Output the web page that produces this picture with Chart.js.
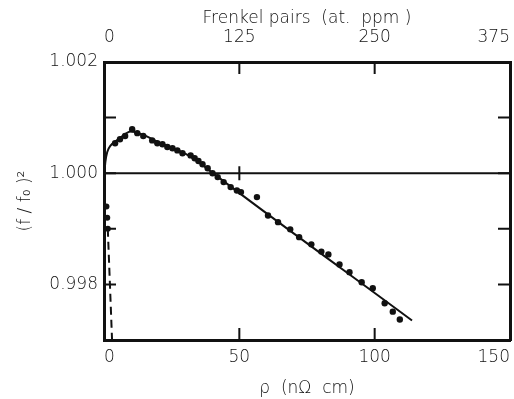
<!DOCTYPE html>
<html>
<head>
<meta charset="utf-8">
<script src="https://cdn.jsdelivr.net/npm/chart.js@4/dist/chart.umd.min.js"></script>
<style>
  html, body { margin: 0; padding: 0; background: #fff; }
  #wrap { width: 514px; height: 399px; }
</style>
</head>
<body>
<div id="wrap"><canvas id="c" width="514" height="399"></canvas></div>
<script>
// Resistivity increase ρ (nΩ cm) and squared frequency ratio (f/f0)^2
const measuredRho = [4.1, 5.9, 7.8, 10.4, 12.3, 14.5, 17.8, 19.7, 21.6, 23.4, 25.3, 27.1, 29.0,
  32.0, 33.5, 34.9, 36.4, 38.3, 40.1, 42.0, 44.2, 46.8, 49.1, 50.6, 56.5, 60.6, 64.3, 68.8,
  72.1, 76.6, 80.3, 82.9, 87.0, 90.7, 95.2, 99.3, 103.7, 106.7, 109.3];
const measuredF2 = [1.00054, 1.00061, 1.00067, 1.00079, 1.00072, 1.00067, 1.00059, 1.00054,
  1.00052, 1.00047, 1.00045, 1.00041, 1.00036, 1.00032, 1.00027, 1.00022, 1.00016, 1.00009,
  1.00000, 0.99993, 0.99984, 0.99975, 0.99969, 0.99966, 0.99957, 0.99924, 0.99912, 0.99899,
  0.99885, 0.99872, 0.99859, 0.99854, 0.99836, 0.99822, 0.99804, 0.99793, 0.99766, 0.99751,
  0.99737];

// lowest-dose points along the ordinate
const earlyRho = [0.9, 1.2, 1.4];
const earlyF2 = [0.9994, 0.9992, 0.9990];

// smooth guide curve through the data
const fitRho = [0.1, 0.5, 1.2, 2.5, 5, 10, 15, 20, 25, 30, 35, 40, 113.8];
const fitF2 = [0.99995, 1.0002, 1.00038, 1.0005, 1.0006, 1.00075, 1.00068, 1.00056, 1.00046,
  1.00035, 1.0002, 1.00001, 0.99735];

// initial steep drop (dashed)
const dropRho = [1.4, 3.0];
const dropF2 = [0.9990, 0.99697];

// reference level
const unityRho = [0, 150];
const unityF2 = [1.0, 1.0];

// axis ticks
const rhoTicks = [0, 50, 100, 150];
const frenkelTicks = [0, 125, 250, 375];
const f2Labels = [0.998, 1.000, 1.002];
const f2Minor = [0.998, 0.999, 1.000, 1.001];

const pts = (xs, ys) => xs.map((x, i) => ({ x: x, y: ys[i] }));

const FONT = { family: "'DejaVu Sans', sans-serif", size: 17, weight: '200' };
const INK = '#111';

// inward tick marks on all four sides plus the cross on the unity line
const innerTicks = {
  id: 'innerTicks',
  afterDatasetsDraw(chart) {
    const { ctx, chartArea: a, scales } = chart;
    const len = 12;
    ctx.save();
    ctx.strokeStyle = INK;
    ctx.lineWidth = 2;
    ctx.beginPath();
    f2Minor.forEach(v => {
      const y = scales.y.getPixelForValue(v);
      ctx.moveTo(a.left, y); ctx.lineTo(a.left + len, y);
      ctx.moveTo(a.right, y); ctx.lineTo(a.right - len, y);
    });
    rhoTicks.slice(1, -1).forEach(v => {
      const x = scales.x.getPixelForValue(v);
      ctx.moveTo(x, a.bottom); ctx.lineTo(x, a.bottom - len);
    });
    frenkelTicks.slice(1, -1).forEach(v => {
      const x = scales.x2.getPixelForValue(v);
      ctx.moveTo(x, a.top); ctx.lineTo(x, a.top + len);
    });
    const cx = scales.x.getPixelForValue(50);
    const cy = scales.y.getPixelForValue(1.0);
    ctx.moveTo(cx, cy - 7); ctx.lineTo(cx, cy + 7);
    ctx.stroke();
    ctx.restore();
  }
};

const frame = { display: true, width: 3, color: INK };

new Chart(document.getElementById('c'), {
  type: 'scatter',
  data: {
    datasets: [
      { data: pts(measuredRho, measuredF2), pointRadius: 3.2, pointBackgroundColor: INK,
        pointBorderWidth: 0, showLine: false, order: 0 },
      { data: pts(earlyRho, earlyF2), pointRadius: 3, pointBackgroundColor: INK,
        pointBorderWidth: 0, showLine: false, order: 0 },
      { data: pts(fitRho, fitF2), showLine: true, borderColor: INK, borderWidth: 2,
        pointRadius: 0, cubicInterpolationMode: 'monotone', order: 1 },
      { data: pts(dropRho, dropF2), showLine: true, borderColor: INK, borderWidth: 2,
        borderDash: [8, 5], pointRadius: 0, order: 1 },
      { data: pts(unityRho, unityF2), showLine: true, borderColor: INK, borderWidth: 2,
        pointRadius: 0, order: 2 }
    ]
  },
  options: {
    responsive: false,
    animation: false,
    devicePixelRatio: 1,
    layout: { padding: 0 },
    plugins: { legend: { display: false }, tooltip: { enabled: false } },
    scales: {
      x: {
        type: 'linear', position: 'bottom', min: 0, max: 150,
        afterBuildTicks: s => { s.ticks = rhoTicks.map(v => ({ value: v })); },
        ticks: { align: 'inner', padding: 7, color: INK, font: FONT, maxRotation: 0 },
        grid: { display: false, drawTicks: false },
        border: frame,
        title: { display: true, text: 'ρ  (nΩ  cm)', color: INK, font: FONT, padding: { top: 13, bottom: 0 } },
        afterFit: s => { s.height = 59; s.paddingLeft = 0; s.paddingRight = 0; }
      },
      x2: {
        type: 'linear', position: 'top', min: 0, max: 375,
        afterBuildTicks: s => { s.ticks = frenkelTicks.map(v => ({ value: v })); },
        ticks: { align: 'inner', padding: 14, color: INK, font: FONT, maxRotation: 0 },
        grid: { display: false, drawTicks: false },
        border: frame,
        title: { display: true, text: 'Frenkel pairs  (at.  ppm )', color: INK, font: FONT, padding: { top: 8, bottom: 0 } },
        afterFit: s => { s.height = 62; s.paddingLeft = 0; s.paddingRight = 0; }
      },
      y: {
        type: 'linear', position: 'left', min: 0.997, max: 1.002,
        afterBuildTicks: s => { s.ticks = f2Labels.map(v => ({ value: v })); },
        ticks: { padding: 6, color: INK, font: FONT, callback: v => v.toFixed(3) },
        grid: { display: false, drawTicks: false },
        border: frame,
        title: { display: true, text: '(f / f₀ )²', color: INK, font: FONT, padding: { top: 15, bottom: 0 } },
        afterFit: s => { s.width = 104; s.paddingTop = 0; s.paddingBottom = 0; }
      },
      y2: {
        type: 'linear', position: 'right', min: 0.997, max: 1.002,
        ticks: { display: false },
        grid: { display: false, drawTicks: false },
        border: frame,
        afterFit: s => { s.width = 4; s.paddingTop = 0; s.paddingBottom = 0; }
      }
    }
  },
  plugins: [innerTicks]
});
</script>
</body>
</html>
